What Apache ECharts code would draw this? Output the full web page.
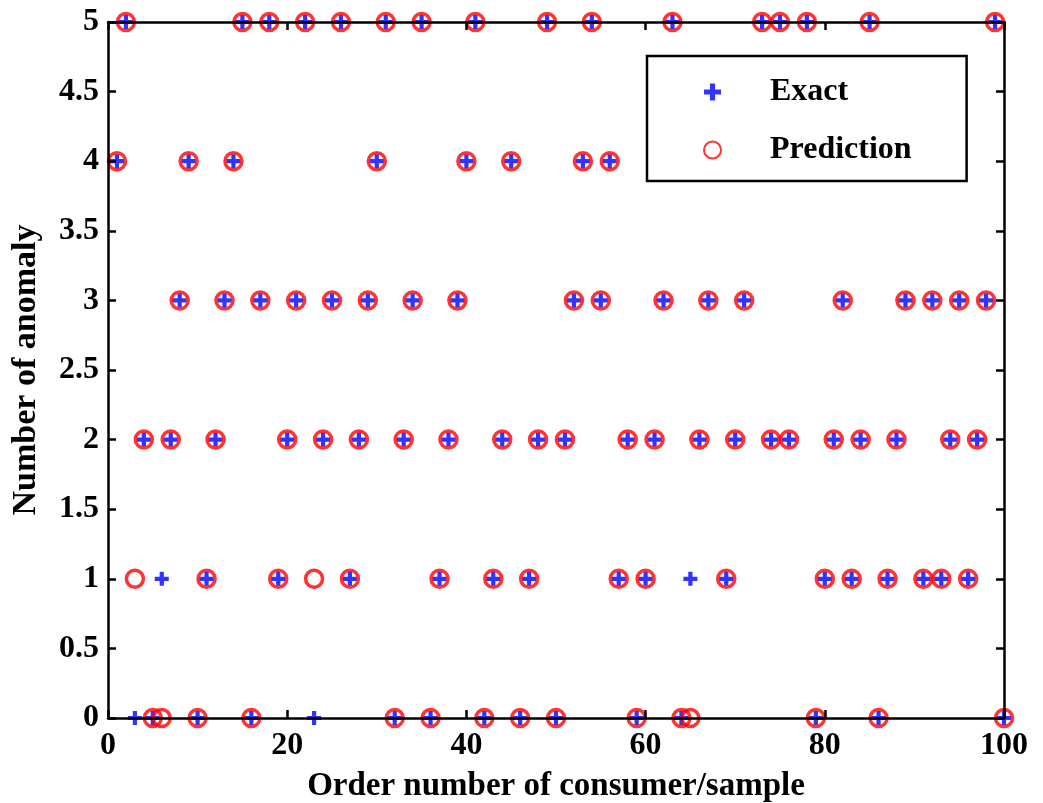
<!DOCTYPE html>
<html>
<head>
<meta charset="utf-8">
<script src="https://cdn.jsdelivr.net/npm/echarts@6/dist/echarts.min.js"></script>
<style>
html,body{margin:0;padding:0;background:#fff;}
#chart{width:1043px;height:803px;}
</style>
</head>
<body>
<div id="chart"></div>
<script>
// Sample order numbers 1..100
const sampleIndex = [
  1,2,3,4,5,6,7,8,9,10,11,12,13,14,15,16,17,18,19,20,
  21,22,23,24,25,26,27,28,29,30,31,32,33,34,35,36,37,38,39,40,
  41,42,43,44,45,46,47,48,49,50,51,52,53,54,55,56,57,58,59,60,
  61,62,63,64,65,66,67,68,69,70,71,72,73,74,75,76,77,78,79,80,
  81,82,83,84,85,86,87,88,89,90,91,92,93,94,95,96,97,98,99,100
];
// Exact number of anomalies
const exactValues = [
  4,5,0,2,0,1,2,3,4,0, 1,2,3,4,5,0,3,5,1,2,
  3,5,0,2,3,5,1,2,3,4, 5,0,2,3,5,0,1,2,3,4,
  5,0,1,2,4,0,1,2,5,0, 2,3,4,5,3,4,1,2,0,1,
  2,3,5,0,1,2,3,4,1,2, 3,4,5,2,5,2,4,5,0,1,
  2,3,1,2,5,0,1,2,3,4, 1,3,1,2,3,1,2,3,5,0
];
// Predicted number of anomalies
const predictionValues = [
  4,5,1,2,0,0,2,3,4,0, 1,2,3,4,5,0,3,5,1,2,
  3,5,1,2,3,5,1,2,3,4, 5,0,2,3,5,0,1,2,3,4,
  5,0,1,2,4,0,1,2,5,0, 2,3,4,5,3,4,1,2,0,1,
  2,3,5,0,0,2,3,4,1,2, 3,4,5,2,5,2,4,5,0,1,
  2,3,1,2,5,0,1,2,3,4, 1,3,1,2,3,1,2,3,5,0
];
const xTicks = [0, 20, 40, 60, 80, 100];
const yTicks = [0, 0.5, 1, 1.5, 2, 2.5, 3, 3.5, 4, 4.5, 5];

const FONT = '"Liberation Serif", "Times New Roman", serif';
const plusPath = 'path://M3.5,0h3v3.5h3.5v3h-3.5v3.5h-3v-3.5h-3.5v-3h3.5z';

const exactData = sampleIndex.map((x, i) => [x, exactValues[i]]);
const predData = sampleIndex.map((x, i) => [x, predictionValues[i]]);

const axisLineStyle = { color: '#000', width: 2.5 };
const tickStyle = { show: true, inside: true, length: 8, lineStyle: { color: '#000', width: 2.5 } };
const labelStyle = { color: '#000', fontFamily: FONT, fontWeight: 'bold', fontSize: 32 };

const chart = echarts.init(document.getElementById('chart'), null, { renderer: 'canvas' });
chart.setOption({
  animation: false,
  backgroundColor: '#fff',
  grid: { left: 108, top: 22, width: 896, height: 696, containLabel: false, outerBoundsMode: 'none' },
  xAxis: [
    {
      type: 'value', min: xTicks[0], max: xTicks[xTicks.length - 1], interval: 20, z: 5,
      position: 'bottom',
      axisLine: { show: true, onZero: false, lineStyle: axisLineStyle },
      axisTick: tickStyle,
      splitLine: { show: false },
      axisLabel: Object.assign({ margin: 12 }, labelStyle),
      name: 'Order number of consumer/sample', nameLocation: 'middle', nameGap: 52,
      nameTextStyle: { color: '#000', fontFamily: FONT, fontWeight: 'bold', fontSize: 33 }
    },
    {
      type: 'value', min: xTicks[0], max: xTicks[xTicks.length - 1], interval: 20, z: 5,
      position: 'top',
      axisLine: { show: true, onZero: false, lineStyle: axisLineStyle },
      axisTick: tickStyle,
      splitLine: { show: false },
      axisLabel: { show: false }
    }
  ],
  yAxis: [
    {
      type: 'value', min: yTicks[0], max: yTicks[yTicks.length - 1], interval: 0.5, z: 5,
      position: 'left',
      axisLine: { show: true, onZero: false, lineStyle: axisLineStyle },
      axisTick: tickStyle,
      splitLine: { show: false },
      axisLabel: Object.assign({ margin: 9 }, labelStyle),
      name: 'Number of anomaly', nameLocation: 'middle', nameGap: 65,
      nameTextStyle: { color: '#000', fontFamily: FONT, fontWeight: 'bold', fontSize: 34 }
    },
    {
      type: 'value', min: yTicks[0], max: yTicks[yTicks.length - 1], interval: 0.5, z: 5,
      position: 'right',
      axisLine: { show: true, onZero: false, lineStyle: axisLineStyle },
      axisTick: tickStyle,
      splitLine: { show: false },
      axisLabel: { show: false }
    }
  ],
  legend: {
    orient: 'vertical',
    left: 647, top: 56,
    padding: [20, 55, 15, 56],
    itemWidth: 17, itemHeight: 17,
    itemGap: 26,
    backgroundColor: '#fff',
    borderColor: '#000', borderWidth: 2.5,
    z: 10,
    textStyle: { color: '#000', fontFamily: FONT, fontWeight: 'bold', fontSize: 32, padding: [0, 0, 0, 44] },
    data: [
      { name: 'Exact', icon: plusPath },
      { name: 'Prediction', icon: 'circle' }
    ]
  },
  series: [
    {
      name: 'Exact', type: 'scatter', data: exactData,
      symbol: plusPath, symbolSize: 14,
      itemStyle: { color: '#0000ff' },
      clip: false, z: 2
    },
    {
      name: 'Prediction', type: 'scatter', data: predData,
      symbol: 'circle', symbolSize: 17,
      itemStyle: { color: 'rgba(0,0,0,0)', borderColor: '#ff0000', borderWidth: 3.5 },
      clip: false, z: 3
    }
  ]
});
</script>
</body>
</html>
